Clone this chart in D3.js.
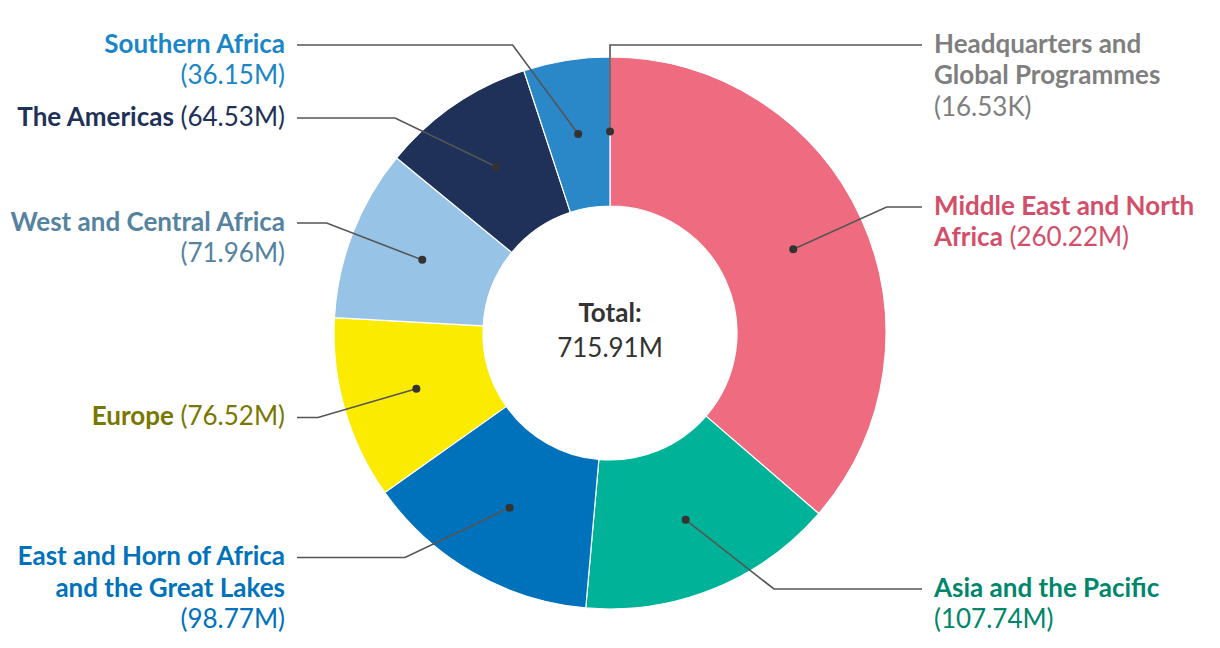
<!DOCTYPE html>
<html><head><meta charset="utf-8">
<script src="https://cdn.jsdelivr.net/npm/d3@7"></script>
<style>body{margin:0;background:#fff;} svg text{font-family:Lato, sans-serif;}</style>
</head><body><svg id="c" width="1220" height="648"></svg>
<script>
const categories = ["Headquarters and Global Programmes","Middle East and North Africa","Asia and the Pacific","East and Horn of Africa and the Great Lakes","Europe","West and Central Africa","The Americas","Southern Africa"];
const values = [0.01653, 260.22, 107.74, 98.77, 76.52, 71.96, 64.53, 36.15];
const valueLabels = ["16.53K","260.22M","107.74M","98.77M","76.52M","71.96M","64.53M","36.15M"];
const totalTitle = "Total:";
const totalLabel = "715.91M";
const sliceColors = ["#8c8c8c","#EF6C80","#00B398","#0072BC","#FAEB00","#96C3E6","#1F3158","#2A87C8"];
const labelColors = ["#7f7f7f","#D34F69","#00866B","#0072BC","#7A7700","#55839F","#1F3158","#1A86C7"];

// layout (not data)
const W = 1220, H = 648, cx = 610, cy = 333, rOuter = 276, rInner = 127, rElbow = 304;
const labelLineY = [45, 207, 589, 557.5, 417.5, 223, 118, 45];
const fontSize = 26, lineH = 31.5;

const svg = d3.select("#c");
const g = svg.append("g").attr("transform", `translate(${cx},${cy})`);

const data = categories.map((c, i) => ({name: c, value: values[i], vl: valueLabels[i], color: sliceColors[i], lc: labelColors[i], ly: labelLineY[i]}));
const pie = d3.pie().value(d => d.value).sort(null);
const arcs = pie(data);
const arc = d3.arc().innerRadius(rInner).outerRadius(rOuter);

g.selectAll("path.slice").data(arcs).join("path")
  .attr("class","slice")
  .attr("d", arc)
  .attr("fill", d => d.data.color)
  .attr("stroke", "#fff").attr("stroke-width", 1.2).attr("stroke-linejoin","round");

// measuring helper
const meas = svg.append("text").attr("font-size", fontSize).attr("visibility","hidden");
function tokWidth(tokens){
  meas.selectAll("tspan").remove();
  tokens.forEach((t, i) => meas.append("tspan").attr("font-weight", t.b ? 700 : 400).text((i ? " " : "") + t.t));
  return meas.node().getComputedTextLength();
}

arcs.forEach(a => {
  const d = a.data;
  const [px, py] = arc.centroid(a);
  const mid = (a.startAngle + a.endAngle) / 2;
  const right = Math.sin(mid) >= 0;
  const ey = d.ly - cy;
  let ex = Math.sqrt(Math.max(0, rElbow*rElbow - ey*ey)) * (right ? 1 : -1);
  if (Math.abs(px) < 3) ex = px;
  const endX = right ? 922 - cx : 297 - cx;
  g.append("polyline")
    .attr("points", [[px,py],[ex,ey],[endX,ey]].map(p => p.join(",")).join(" "))
    .attr("fill","none").attr("stroke","#555").attr("stroke-width",1.6);
  g.append("circle").attr("cx",px).attr("cy",py).attr("r",4).attr("fill","#333");

  // label with wrapping
  const tokens = d.name.split(" ").map(t => ({t, b:true})).concat([{t:"(" + d.vl + ")", b:false}]);
  const maxW = right ? 270 : 282;
  const lines = [];
  let cur = [];
  tokens.forEach(t => {
    const trial = cur.concat([t]);
    if (cur.length && tokWidth(trial) > maxW) { lines.push(cur); cur = [t]; }
    else cur = trial;
  });
  if (cur.length) lines.push(cur);
  const tx = right ? 934 : 285;
  lines.forEach((ln, li) => {
    const t = svg.append("text")
      .attr("x", tx).attr("y", d.ly + 7.5 + li*lineH)
      .attr("text-anchor", right ? "start" : "end")
      .attr("font-size", fontSize).attr("fill", d.lc);
    ln.forEach((tk, i) => t.append("tspan").attr("font-weight", tk.b ? 700 : 400).text((i ? " " : "") + tk.t));
  });
});
meas.remove();

svg.append("text").attr("x", cx).attr("y", 321.5).attr("text-anchor","middle")
  .attr("font-size", fontSize).attr("font-weight",700).attr("fill","#333").text(totalTitle);
svg.append("text").attr("x", cx).attr("y", 357).attr("text-anchor","middle")
  .attr("font-size", fontSize).attr("font-weight",400).attr("fill","#333").text(totalLabel);
</script></body></html>
